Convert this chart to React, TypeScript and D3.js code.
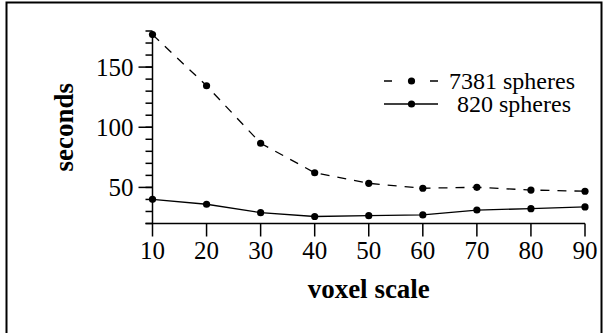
import * as d3 from "d3";
import React, { useEffect, useRef } from "react";

const voxelScales = [10, 20, 30, 40, 50, 60, 70, 80, 90];
const spheres7381 = [177, 134.5, 86.7, 62.2, 53.4, 49.3, 50.1, 47.8, 46.8];
const spheres820 = [40.1, 36.0, 29.0, 25.8, 26.5, 27.1, 31.2, 32.3, 33.8];
const yTicks = [50, 100, 150];
const seriesNames = ["7381 spheres", "820 spheres"];

const WIDTH = 605;
const HEIGHT = 333;
const FONT = "'Liberation Serif', 'Times New Roman', serif";

function App() {
  const svgRef = useRef<SVGSVGElement>(null);

  useEffect(() => {
    const svg = d3.select(svgRef.current);
    svg.selectAll("*").remove();

    const x = d3.scaleLinear().domain([10, 90]).range([152.5, 585]);
    const y = d3.scaleLinear().domain([20, 180]).range([223.5, 31]);

    // frame
    svg
      .append("rect")
      .attr("x", 6.5)
      .attr("y", 2.5)
      .attr("width", 595)
      .attr("height", 400)
      .attr("fill", "none")
      .attr("stroke", "#000")
      .attr("stroke-width", 2);

    // y axis: minor ticks every 10, major at labels
    const yAxis = svg.append("g");
    yAxis
      .append("line")
      .attr("x1", x(10))
      .attr("x2", x(10))
      .attr("y1", y(180))
      .attr("y2", y(20))
      .attr("stroke", "#000")
      .attr("stroke-width", 1.5);
    yAxis
      .selectAll(".minor")
      .data(d3.range(20, 181, 10))
      .join("line")
      .attr("x1", x(10) - 7)
      .attr("x2", x(10))
      .attr("y1", (d) => y(d))
      .attr("y2", (d) => y(d))
      .attr("stroke", "#000")
      .attr("stroke-width", 1.5);
    yAxis
      .selectAll(".major")
      .data(yTicks)
      .join("line")
      .attr("x1", x(10) - 14)
      .attr("x2", x(10))
      .attr("y1", (d) => y(d))
      .attr("y2", (d) => y(d))
      .attr("stroke", "#000")
      .attr("stroke-width", 1.5);
    yAxis
      .selectAll("text")
      .data(yTicks)
      .join("text")
      .attr("x", x(10) - 19)
      .attr("y", (d) => y(d))
      .attr("dy", "0.34em")
      .attr("text-anchor", "end")
      .attr("font-family", FONT)
      .attr("font-size", 25)
      .text((d) => d);

    // x axis
    const xAxis = svg.append("g");
    xAxis
      .append("line")
      .attr("x1", x(10) - 7)
      .attr("x2", x(90))
      .attr("y1", y(20))
      .attr("y2", y(20))
      .attr("stroke", "#000")
      .attr("stroke-width", 1.5);
    xAxis
      .selectAll("line.tick")
      .data(voxelScales)
      .join("line")
      .attr("class", "tick")
      .attr("x1", (d) => x(d))
      .attr("x2", (d) => x(d))
      .attr("y1", y(20))
      .attr("y2", y(20) + 13)
      .attr("stroke", "#000")
      .attr("stroke-width", 1.5);
    xAxis
      .selectAll("text")
      .data(voxelScales)
      .join("text")
      .attr("x", (d) => x(d))
      .attr("y", 259)
      .attr("text-anchor", "middle")
      .attr("font-family", FONT)
      .attr("font-size", 25)
      .text((d) => d);

    // axis titles
    svg
      .append("text")
      .attr("x", (x(10) + x(90)) / 2)
      .attr("y", 298)
      .attr("text-anchor", "middle")
      .attr("font-family", FONT)
      .attr("font-weight", "bold")
      .attr("font-size", 27)
      .text("voxel scale");
    svg
      .append("text")
      .attr("transform", `translate(73, ${(y(20) + y(180)) / 2}) rotate(-90)`)
      .attr("text-anchor", "middle")
      .attr("font-family", FONT)
      .attr("font-weight", "bold")
      .attr("font-size", 27)
      .text("seconds");

    // series
    const line = d3
      .line<number>()
      .x((_, i) => x(voxelScales[i]))
      .y((d) => y(d));

    const series = [
      { values: spheres7381, dash: "9,8" },
      { values: spheres820, dash: null },
    ];

    series.forEach((s) => {
      svg
        .append("path")
        .datum(s.values)
        .attr("d", line)
        .attr("fill", "none")
        .attr("stroke", "#000")
        .attr("stroke-width", 1.3)
        .attr("stroke-dasharray", s.dash);
      svg
        .append("g")
        .selectAll("circle")
        .data(s.values)
        .join("circle")
        .attr("cx", (_, i) => x(voxelScales[i]))
        .attr("cy", (d) => y(d))
        .attr("r", 3.6)
        .attr("fill", "#000");
    });

    // legend
    const legend = svg.append("g");
    const legendY = [81, 104];
    const legendTextX = [449, 457];
    seriesNames.forEach((name, i) => {
      legend
        .append("line")
        .attr("x1", 384)
        .attr("x2", 438)
        .attr("y1", legendY[i])
        .attr("y2", legendY[i])
        .attr("stroke", "#000")
        .attr("stroke-width", 1.3)
        .attr("stroke-dasharray", i === 0 ? "8,38" : null);
      legend
        .append("circle")
        .attr("cx", 411.5)
        .attr("cy", legendY[i])
        .attr("r", 3.6)
        .attr("fill", "#000");
      legend
        .append("text")
        .attr("x", legendTextX[i])
        .attr("y", legendY[i])
        .attr("dy", "0.34em")
        .attr("font-family", FONT)
        .attr("font-size", 24)
        .text(name);
    });
  }, []);

  return (
    <svg
      ref={svgRef}
      width={WIDTH}
      height={HEIGHT}
      style={{ position: "absolute", left: 0, top: 0, background: "#fff" }}
    />
  );
}

export default App;
